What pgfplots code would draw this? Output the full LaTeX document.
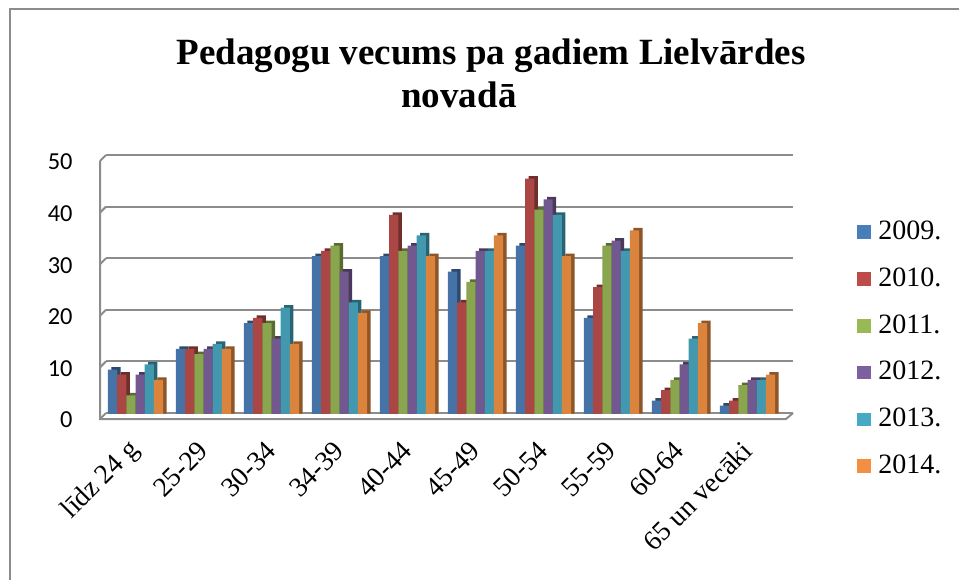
\documentclass[border=0pt]{standalone}
\usepackage{fontspec}
\setmainfont{Liberation Serif}
\newfontfamily\calibri{Carlito}
\usepackage{pgfplots}
\usepackage{pgfplotstable}
\pgfplotsset{compat=1.18}
\definecolor{c1}{HTML}{4572A7}
\definecolor{c2}{HTML}{AA4643}
\definecolor{c3}{HTML}{89A54E}
\definecolor{c4}{HTML}{71588F}
\definecolor{c5}{HTML}{4198AF}
\definecolor{c6}{HTML}{DB843D}
\definecolor{l1}{HTML}{4A7EBB}
\definecolor{l2}{HTML}{BE4B48}
\definecolor{l3}{HTML}{98B954}
\definecolor{l4}{HTML}{7D60A0}
\definecolor{l5}{HTML}{46AAC5}
\definecolor{l6}{HTML}{F28F43}
\definecolor{gridc}{HTML}{8C8C8C}

\pgfplotstableread{
x a b c d e f
0 9 8 4 8 10 7
1 13 13 12 13 14 13
2 18 19 18 15 21 14
3 31 32 33 28 22 20
4 31 39 32 33 35 31
5 28 22 26 32 32 35
6 33 46 40 42 39 31
7 19 25 33 34 32 36
8 3 5 7 10 15 18
9 2 3 6 7 7 8
}\datatable

\begin{document}
\begin{tikzpicture}
\begin{scope}[x=0.5pt,y=-0.5pt]
\path (0,0) rectangle (959,580);
\draw[line width=1pt, color=gridc] (9.5,580) -- (9.5,8.5) -- (959,8.5);
\node[anchor=base, font=\bfseries\fontsize{18.5}{22}\selectfont, inner sep=0pt] at (491,64) {Pedagogu vecums pa gadiem Lielvārdes};
\node[anchor=base, font=\bfseries\fontsize{18.5}{22}\selectfont, inner sep=0pt] at (459,107) {novadā};
% side wall and floor
\draw[line width=1pt, color=gridc] (100,161) -- (100,419) -- (786,419) -- (793,413);
\foreach \yy in {413,361.4,309.8,258.2,206.6,155} { \draw[line width=1pt, color=gridc] (100,\yy+6) -- (106,\yy); }
\end{scope}
\begin{axis}[
  at={(53pt,-206.5pt)}, anchor=south west,
  width=343.5pt, height=129pt, scale only axis,
  xmin=-0.434, xmax=9.669, ymin=0, ymax=50,
  ytick={0,10,...,50},
  xtick={0,...,9},
  xticklabels={līdz 24 g, 25-29, 30-34, 34-39, 40-44, 45-49, 50-54, 55-59, 60-64, 65 un vecāki},
  ymajorgrids, grid style={line width=1pt, gridc},
  axis line style={draw=none},
  major tick length=0pt, tick style={draw=none},
  /pgf/number format/assume math mode=true,
  yticklabel style={font=\calibri\fontsize{12.2}{13}\selectfont, inner sep=0pt, anchor=east, xshift=-16.5pt, yshift=-3.5pt},
  xticklabel style={font=\fontsize{13.8}{14}\selectfont, inner sep=0pt, yshift=-16.5pt, rotate=45, anchor=east},
  ybar, bar width=4.6pt,
  legend style={at={(1.093,0.246)}, anchor=west, draw=none, fill=none, inner sep=0pt,
    font=\fontsize{14}{15}\selectfont, row sep=10.4pt, column sep=3.5pt,
    nodes={inner sep=0pt, text height=10pt, text depth=3pt}},
  legend cell align=left,
  legend image code/.code={\fill[#1] (0pt,-3.2pt) rectangle (7pt,3.6pt);},
]
% depth (side/top faces)
\addplot[forget plot, fill=c1!65!black, draw=none, bar shift=-11.5pt, xshift=1.75pt, yshift=-0.25pt] table[x=x,y=a] {\datatable};
\addplot[forget plot, fill=c2!65!black, draw=none, bar shift=-6.9pt, xshift=1.75pt, yshift=-0.25pt] table[x=x,y=b] {\datatable};
\addplot[forget plot, fill=c3!65!black, draw=none, bar shift=-2.3pt, xshift=1.75pt, yshift=-0.25pt] table[x=x,y=c] {\datatable};
\addplot[forget plot, fill=c4!65!black, draw=none, bar shift=2.3pt, xshift=1.75pt, yshift=-0.25pt] table[x=x,y=d] {\datatable};
\addplot[forget plot, fill=c5!65!black, draw=none, bar shift=6.9pt, xshift=1.75pt, yshift=-0.25pt] table[x=x,y=e] {\datatable};
\addplot[forget plot, fill=c6!65!black, draw=none, bar shift=11.5pt, xshift=1.75pt, yshift=-0.25pt] table[x=x,y=f] {\datatable};
% front faces
\addplot[forget plot, fill=c1, draw=none, bar shift=-11.5pt, yshift=-1.5pt] table[x=x,y=a] {\datatable};
\addplot[forget plot, fill=c2, draw=none, bar shift=-6.9pt, yshift=-1.5pt] table[x=x,y=b] {\datatable};
\addplot[forget plot, fill=c3, draw=none, bar shift=-2.3pt, yshift=-1.5pt] table[x=x,y=c] {\datatable};
\addplot[forget plot, fill=c4, draw=none, bar shift=2.3pt, yshift=-1.5pt] table[x=x,y=d] {\datatable};
\addplot[forget plot, fill=c5, draw=none, bar shift=6.9pt, yshift=-1.5pt] table[x=x,y=e] {\datatable};
\addplot[forget plot, fill=c6, draw=none, bar shift=11.5pt, yshift=-1.5pt] table[x=x,y=f] {\datatable};
\addlegendimage{fill=l1, draw=none}
\addlegendimage{fill=l2, draw=none}
\addlegendimage{fill=l3, draw=none}
\addlegendimage{fill=l4, draw=none}
\addlegendimage{fill=l5, draw=none}
\addlegendimage{fill=l6, draw=none}
\legend{2009., 2010., 2011., 2012., 2013., 2014.}
\end{axis}
\pgfresetboundingbox
\path (0,0) rectangle (479.5pt,-290pt);
\end{tikzpicture}
\end{document}
